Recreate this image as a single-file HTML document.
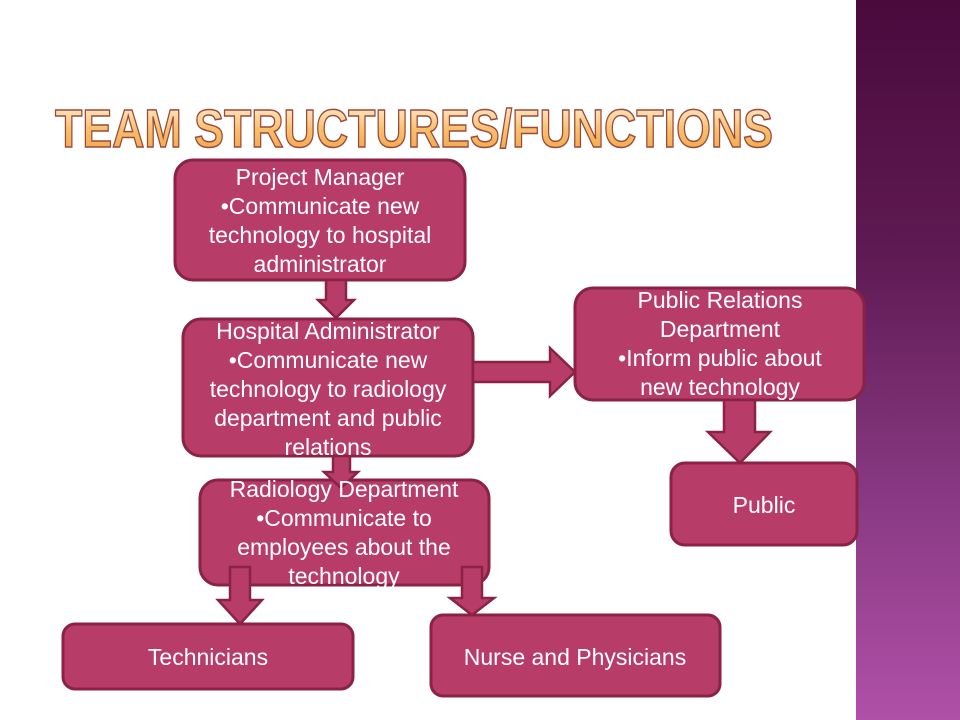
<!DOCTYPE html>
<html><head><meta charset="utf-8"><style>
html,body{margin:0;padding:0;background:#fff;}
svg{display:block;}
</style></head><body>
<svg width="960" height="720" viewBox="0 0 960 720" xmlns="http://www.w3.org/2000/svg">
<defs>
<linearGradient id="side" x1="0" y1="0" x2="0" y2="1">
<stop offset="0" stop-color="#4a0a3c"/>
<stop offset="0.35" stop-color="#5e1a52"/>
<stop offset="0.7" stop-color="#8a3a84"/>
<stop offset="1" stop-color="#b050a8"/>
</linearGradient>
<linearGradient id="title" x1="0" y1="0" x2="0" y2="1">
<stop offset="0" stop-color="#fff4e0"/>
<stop offset="0.5" stop-color="#f8c070"/>
<stop offset="1" stop-color="#f0a040"/>
</linearGradient>
</defs>
<rect x="856" y="0" width="104" height="720" fill="url(#side)"/>
<text x="55" y="147" font-family="Liberation Sans, sans-serif" font-weight="bold" font-size="54" textLength="718" lengthAdjust="spacingAndGlyphs" fill="url(#title)" stroke="#9a4a3a" stroke-width="1.5">TEAM STRUCTURES/FUNCTIONS</text>

<g fill="#b83c68" stroke="#8a2244" stroke-width="3">
<rect x="175" y="160" width="290" height="120" rx="18"/>
<rect x="183" y="319" width="290" height="137" rx="18"/>
<rect x="575" y="288" width="289" height="112" rx="18"/>
<rect x="671" y="463" width="186" height="82" rx="14"/>
<rect x="200" y="480" width="289" height="105" rx="18"/>
<rect x="63" y="624" width="290" height="65" rx="12"/>
<rect x="431" y="615" width="289" height="81" rx="12"/>
</g>
<g fill="#b83c68" stroke="#8a2244" stroke-width="2.5" stroke-linejoin="miter">
<polygon points="326,280 346,280 346,300 354,300 336,318 318,300 326,300"/>
<polygon points="473,362 550,362 550,348 575,372 550,396 550,382 473,382"/>
<polygon points="724,400 755,400 755,432 770,432 740,463 708,432 724,432"/>
<polygon points="333,456 350,456 350,472 358,472 341,488 324,472 333,472"/>
<polygon points="230,567 250,567 250,600 262,600 240,624 218,600 230,600"/>
<polygon points="462,567 482,567 482,598 494,598 472,615 450,598 462,598"/>
</g>
<g font-family="Liberation Sans, sans-serif" font-size="23" fill="#fff" text-anchor="middle">
<text x="320" y="185">Project Manager</text>
<text x="320" y="214">•Communicate new</text>
<text x="320" y="243">technology to hospital</text>
<text x="320" y="272">administrator</text>
<text x="328" y="339">Hospital Administrator</text>
<text x="328" y="368">•Communicate new</text>
<text x="328" y="397">technology to radiology</text>
<text x="328" y="426">department  and public</text>
<text x="328" y="455">relations</text>
<text x="720" y="308">Public Relations</text>
<text x="720" y="337">Department</text>
<text x="720" y="366">•Inform public about</text>
<text x="720" y="395">new technology</text>
<text x="764" y="513">Public</text>
<text x="344" y="497">Radiology Department</text>
<text x="344" y="526">•Communicate to</text>
<text x="344" y="555">employees about the</text>
<text x="344" y="584">technology</text>
<text x="208" y="665">Technicians</text>
<text x="575" y="665">Nurse and Physicians</text>
</g>
</svg>
</body></html>
